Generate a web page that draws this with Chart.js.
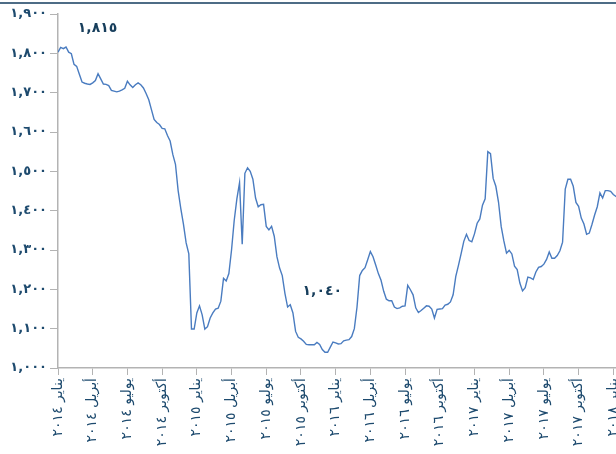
<!DOCTYPE html>
<html lang="ar">
<head>
<meta charset="utf-8">
<script src="https://cdn.jsdelivr.net/npm/chart.js@4.4.0/dist/chart.umd.min.js"></script>
<style>
    html, body { margin: 0; padding: 0; background: #ffffff; overflow: hidden; }
    #wrap { position: relative; width: 616px; height: 454px; overflow: hidden; }
    #topRule { position: absolute; left: 0; top: 2px; width: 616px; height: 2px; background: #4d6c86; }
    #chart { position: absolute; left: 0; top: 0; }
</style>
</head>
<body>
<div id="wrap">
    <div id="topRule"></div>
    <canvas id="chart" width="640" height="454"></canvas>
</div>
<script>
// quarter tick labels, one every 13 weeks
const quarterLabels = [
    'يناير ٢٠١٤', 'أبريل ٢٠١٤', 'يوليو ٢٠١٤', 'أكتوبر ٢٠١٤',
    'يناير ٢٠١٥', 'أبريل ٢٠١٥', 'يوليو ٢٠١٥', 'أكتوبر ٢٠١٥',
    'يناير ٢٠١٦', 'أبريل ٢٠١٦', 'يوليو ٢٠١٦', 'أكتوبر ٢٠١٦',
    'يناير ٢٠١٧', 'أبريل ٢٠١٧', 'يوليو ٢٠١٧', 'أكتوبر ٢٠١٧',
    'يناير ٢٠١٨'
];

const yTickLabels = ['١,٠٠٠', '١,١٠٠', '١,٢٠٠', '١,٣٠٠', '١,٤٠٠', '١,٥٠٠', '١,٦٠٠', '١,٧٠٠', '١,٨٠٠', '١,٩٠٠'];

// weekly values
const prices = [
    1803, 1815, 1812, 1816, 1803, 1799, 1772, 1767, 1747, 1727,
    1724, 1722, 1721, 1725, 1731, 1748, 1735, 1722, 1721, 1718,
    1706, 1704, 1702, 1704, 1707, 1711, 1729, 1720, 1713, 1720,
    1725, 1720, 1712, 1698, 1682, 1657, 1632, 1624, 1619, 1609,
    1608, 1591, 1577, 1543, 1518, 1451, 1405, 1365, 1318, 1290,
    1099, 1099, 1140, 1158, 1135, 1099, 1105, 1127, 1140, 1150,
    1152, 1170, 1228, 1221, 1240, 1300, 1375, 1430, 1471, 1315,
    1495, 1509, 1500, 1480, 1432, 1410, 1415, 1416, 1360, 1351,
    1360, 1335, 1283, 1254, 1235, 1190, 1155, 1161, 1140, 1093,
    1078, 1074, 1068, 1060, 1059, 1059, 1059, 1065, 1060, 1047,
    1040, 1040, 1053, 1066, 1064, 1061, 1062, 1069, 1071, 1072,
    1080, 1100, 1155, 1235, 1248, 1255, 1275, 1296, 1283, 1262,
    1240, 1223, 1195, 1175, 1171, 1171, 1155, 1151, 1153, 1157,
    1158, 1210, 1199, 1186, 1153, 1141, 1146, 1152, 1158, 1157,
    1150, 1127, 1149, 1150, 1151, 1160, 1162, 1168, 1186, 1233,
    1261, 1291, 1322, 1340, 1324, 1321, 1341, 1368, 1379, 1414,
    1430, 1550, 1545, 1482, 1462, 1422, 1360, 1323, 1292, 1299,
    1290, 1259, 1250, 1216, 1196, 1204, 1231, 1229, 1225, 1244,
    1256, 1258, 1264, 1276, 1295, 1279, 1279, 1286, 1298, 1320,
    1455, 1480, 1480, 1462, 1421, 1411, 1381, 1366, 1340, 1343,
    1365, 1389, 1410, 1445, 1432, 1451, 1451, 1449, 1441, 1436,
    1432, 1452
];

// text notes placed in data units (week, value)
const notes = [
    { text: '١,٨١٥', week: 14.8, value: 1864 },
    { text: '١,٠٤٠', week: 99, value: 1196 }
];

const navy = '#1d4a6e';
const axisGrey = '#b3b3b3';

const notesPlugin = {
    id: 'notes',
    afterDatasetsDraw(chart) {
        const ctx = chart.ctx;
        const xs = chart.scales.x;
        const ys = chart.scales.y;
        ctx.save();
        ctx.fillStyle = '#173e5c';
        ctx.font = 'bold 14px "DejaVu Sans"';
        ctx.textAlign = 'center';
        ctx.textBaseline = 'middle';
        notes.forEach(n => {
            ctx.fillText(n.text, xs.getPixelForValue(n.week), ys.getPixelForValue(n.value));
        });
        ctx.restore();
    }
};

new Chart(document.getElementById('chart').getContext('2d'), {
    type: 'line',
    data: {
        datasets: [{
            data: prices.map((v, i) => ({ x: i, y: v })),
            borderColor: '#4a7cc0',
            borderWidth: 1.4,
            pointRadius: 0,
            tension: 0,
            fill: false
        }]
    },
    options: {
        responsive: false,
        animation: false,
        events: [],
        layout: { padding: { top: 14, left: 0, right: 0, bottom: 0 } },
        plugins: {
            legend: { display: false },
            tooltip: { enabled: false }
        },
        scales: {
            x: {
                type: 'linear',
                min: 0,
                max: 218,
                afterBuildTicks: scale => {
                    scale.ticks = quarterLabels.map((_, k) => ({ value: k * 13 }));
                },
                afterFit: scale => { scale.height = 86; },
                grid: { drawOnChartArea: false, drawTicks: true, tickLength: 7, color: axisGrey },
                border: { display: true, color: axisGrey, width: 1.5 },
                ticks: {
                    autoSkip: false,
                    maxRotation: 90,
                    minRotation: 90,
                    padding: 3,
                    color: navy,
                    font: { family: 'DejaVu Sans', size: 14 },
                    callback: value => quarterLabels[Math.round(value / 13)]
                }
            },
            y: {
                min: 1000,
                max: 1900,
                afterFit: scale => { scale.width = 58; },
                grid: { drawOnChartArea: false, drawTicks: true, tickLength: 8, color: axisGrey },
                border: { display: true, color: axisGrey, width: 1.5 },
                ticks: {
                    stepSize: 100,
                    padding: 3,
                    color: navy,
                    font: { family: 'DejaVu Sans', size: 13, weight: 'bold' },
                    callback: value => yTickLabels[Math.round((value - 1000) / 100)]
                }
            }
        }
    },
    plugins: [notesPlugin]
});
</script>
</body>
</html>
